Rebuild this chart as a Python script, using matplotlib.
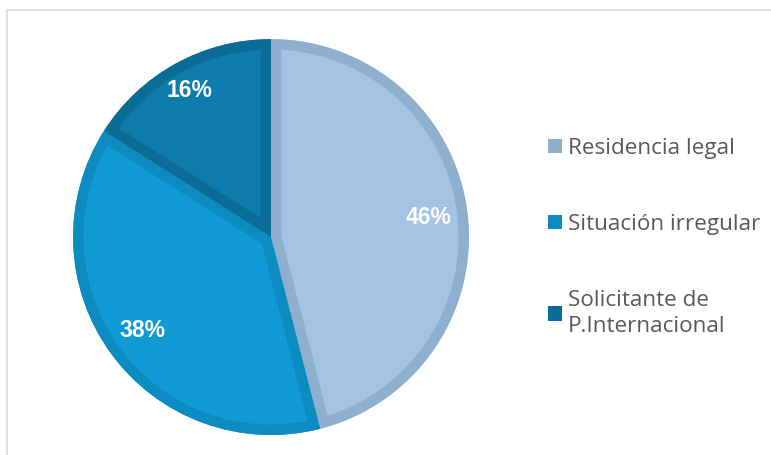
import matplotlib
matplotlib.use("Agg")
import matplotlib.pyplot as plt
from matplotlib.patches import Patch, Wedge
from matplotlib.lines import Line2D

categories = ["Residencia legal", "Situación irregular", "Solicitante de\nP.Internacional"]
values = [46, 38, 16]
fill_colors = ["#A3C4E2", "#0F9AD4", "#0E7DAD"]
edge_colors = ["#8EB0CE", "#0B8BC0", "#0B6C97"]

fig = plt.figure(figsize=(7.71, 4.55), dpi=100)
ax = fig.add_axes([0.0947, 0.044, 0.5136, 0.870])

wedges, texts, autotexts = ax.pie(
    values, colors=fill_colors, startangle=90, counterclock=False,
    autopct=lambda p: f"{p:.0f}%", pctdistance=0.8,
    wedgeprops=dict(linewidth=0),
    textprops=dict(color="white", fontsize=16.5, fontweight="bold", family="Liberation Sans"))
for w, ec in zip(wedges, edge_colors):
    b = Wedge(w.center, w.r, w.theta1, w.theta2, fill=False, edgecolor=ec, linewidth=15, zorder=w.get_zorder() + 0.1)
    ax.add_patch(b)
    b.set_clip_path(w)
for t in autotexts:
    t.set_zorder(5)
ax.set_xlim(-1, 1)
ax.set_ylim(-1, 1)
ax.set_aspect("equal")
autotexts[2].set_position((-0.41, 0.74))

handles = [Patch(facecolor=ec, edgecolor="none") for ec in edge_colors]
leg = fig.legend(handles, categories, loc="upper left", bbox_to_anchor=(0.685, 0.742),
                 frameon=False, handlelength=0.6, handleheight=0.6, handletextpad=0.25,
                 labelspacing=2.45, prop=dict(family="Open Sans", size=16.2))
for t in leg.get_texts():
    t.set_color("#595959")
    t.set_linespacing(1.3)

# chart frame lines (top and left)
fig.add_artist(Line2D([0.009, 1.0], [0.978, 0.978], transform=fig.transFigure, color="#D9D9D9", lw=1.2))
fig.add_artist(Line2D([0.009, 0.009], [0.0, 0.978], transform=fig.transFigure, color="#D9D9D9", lw=1.2))

fig.savefig("out.png", dpi=100)
